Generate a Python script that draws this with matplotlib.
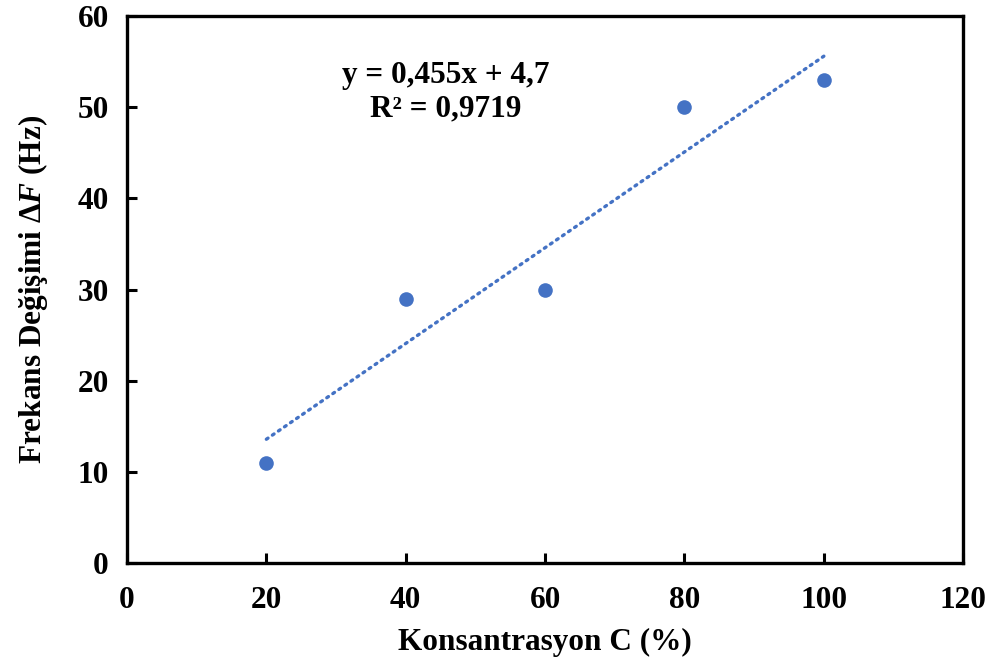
import matplotlib
matplotlib.use("Agg")
import matplotlib.pyplot as plt
import numpy as np

# ── data ─────────────────────────────────────────────────────────────────────
conc = np.array([20, 40, 60, 80, 100])      # Konsantrasyon C (%)
dfreq = np.array([11, 29, 30, 50, 53])      # Frekans değişimi (Hz)
x_ticks = [0, 20, 40, 60, 80, 100, 120]
y_ticks = [0, 10, 20, 30, 40, 50, 60]
eq_text = "y = 0,455x + 4,7\nR² = 0,9719"

plt.rcParams["font.family"] = ["Liberation Serif", "DejaVu Serif"]
plt.rcParams["font.weight"] = "bold"
plt.rcParams["mathtext.fontset"] = "custom"
plt.rcParams["mathtext.it"] = "Liberation Serif:italic:bold"
plt.rcParams["mathtext.rm"] = "Liberation Serif:bold"

BLUE = "#4472C4"
FS = 22.5

fig = plt.figure(figsize=(9.92, 6.69), dpi=100)
ax = fig.add_axes([0.128, 0.158, 0.843, 0.818])

# linear trendline
k, b = np.polyfit(conc, dfreq, 1)
xt = np.array([conc.min(), conc.max()])
ax.plot(xt, k * xt + b, color=BLUE, lw=2.4, ls=(0, (0.6, 1.6)),
        dash_capstyle="round", zorder=2)
ax.plot(conc, dfreq, "o", color=BLUE, ms=10.5, mec="none", zorder=3)

ax.text(45.7, 51.7, eq_text, ha="center", va="center", fontsize=FS,
        fontweight="bold", linespacing=1.2)

ax.set_xlim(0, 120)
ax.set_ylim(0, 60)
ax.set_xticks(x_ticks)
ax.set_yticks(y_ticks)
ax.tick_params(direction="in", length=7, width=2.2, labelsize=FS)
ax.tick_params(axis="x", pad=16)
ax.tick_params(axis="y", pad=13)
for lab in ax.get_xticklabels() + ax.get_yticklabels():
    lab.set_fontweight("bold")
for s in ax.spines.values():
    s.set_linewidth(2.4)

ax.set_xlabel("Konsantrasyon C (%)", fontsize=FS, fontweight="bold", labelpad=10)
ax.set_ylabel(r"Frekans Değişimi Δ$F$ (Hz)", fontsize=FS, fontweight="bold",
              labelpad=20)

fig.savefig("out.png", dpi=100, facecolor="white")
